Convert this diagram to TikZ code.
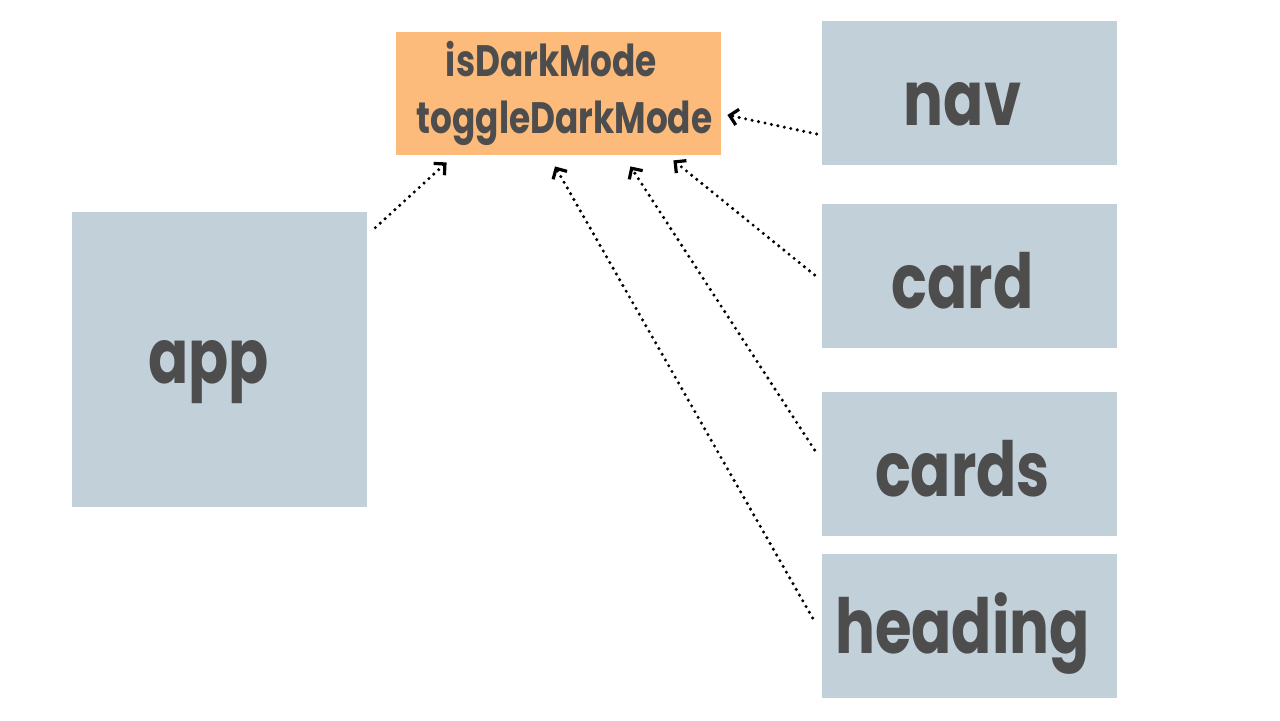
\documentclass[tikz,border=0pt]{standalone}
\usepackage{fontspec}
\setmainfont{Poppins}
\usepackage{xcolor}
\usepackage{graphicx}
\usetikzlibrary{arrows.meta}
\definecolor{boxblue}{HTML}{C2D0DA}
\definecolor{boxorange}{HTML}{FDBB7B}
\definecolor{labelgray}{HTML}{4D4D4D}
\newcommand{\lbl}[1]{\scalebox{0.78}[1]{#1}}
\newcommand{\biglbl}[1]{\lbl{#1}\hspace*{7pt}}
\begin{document}
\begin{tikzpicture}[x=0.5pt,y=-0.5pt]
      \useasboundingbox (0,0) rectangle (1280,720);
      \begin{scope}[shape=rectangle,inner sep=0pt,text=labelgray,font=\bfseries]
          \tikzstyle{every node}=[fill=boxblue,minimum width=147.5pt,minimum height=72pt,
                                  text height=32pt,text depth=0pt,font=\fontsize{38}{40}\bfseries]
          \node[fill=boxorange,minimum width=162.5pt,minimum height=61.5pt,align=center,
                text height=,text depth=,font=\fontsize{22}{27.5}\bfseries]
                                      (state)   at (558.5,93.5) {\lbl{isDarkMode}\hspace*{7pt}\\[1pt]\hspace*{6pt}\lbl{toggleDarkMode}};
          \node[minimum height=147.5pt,text height=24pt] (app) at (219.5,359.5) {\lbl{app}\hspace*{11pt}};
          \node (nav)      at (969.5,93)  {\biglbl{nav}};
          \node (card)     at (969.5,276) {\biglbl{card}};
          \node (cards)    at (969.5,464) {\biglbl{cards}};
          \node[text height=27pt] (heading)  at (969.5,626) {\biglbl{heading}};
      \end{scope}

      \tikzset{uses/.style={-{Straight Barb[length=4pt,width=8pt,line width=1.6pt]},line width=1.7pt,
                            line cap=round,dash pattern=on 0pt off 3.3pt}}
      \draw[uses] ([shift={(8,16)}]app.north east)  -- ([shift={(51,7)}]state.south west);
      \draw[uses] ([shift={(-5,41)}]nav.west)       -- ([shift={(6,21.5)}]state.east);
      \draw[uses] ([shift={(-7,-1)}]card.west)      -- ([shift={(-48,5)}]state.south east);
      \draw[uses] ([shift={(-7,-14)}]cards.west)    -- ([shift={(-91,11)}]state.south east);
      \draw[uses] ([shift={(-9,-8)}]heading.west)   -- ([shift={(-3.5,11)}]state.south);
\end{tikzpicture}
\end{document}
